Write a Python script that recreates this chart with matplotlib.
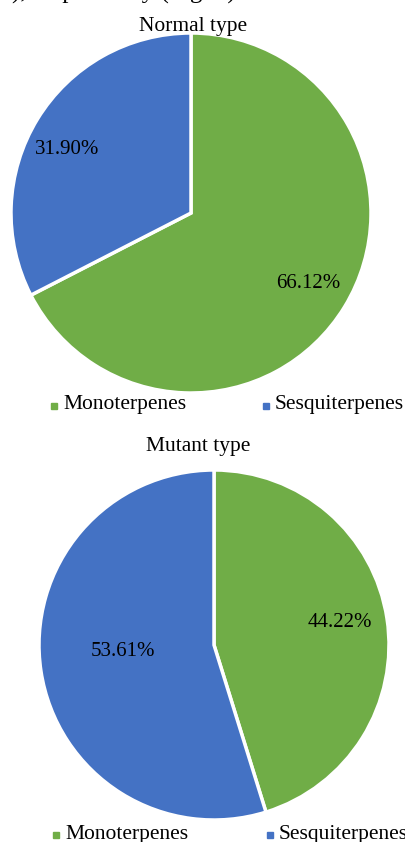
import matplotlib.pyplot as plt
from matplotlib.lines import Line2D

# Data
categories = ['Monoterpenes', 'Sesquiterpenes']
normal_values = [66.12, 31.90]
mutant_values = [44.22, 53.61]
colors = ['#70ad47', '#4472c4']

plt.rcParams['font.family'] = ['Liberation Serif', 'DejaVu Serif']

W, H = 406, 842
fig = plt.figure(figsize=(W / 100, H / 100), dpi=100)


def box(x0, y0, x1, y1):
    # pixel box (top-left origin) -> figure fraction
    return [x0 / W, 1 - y1 / H, (x1 - x0) / W, (y1 - y0) / H]


def draw_pie(ax, values, label_pos):
    wedges, _ = ax.pie(values, colors=colors, startangle=90, counterclock=False,
                       wedgeprops=dict(edgecolor='white', linewidth=2.5))
    for v, (lx, ly) in zip(values, label_pos):
        ax.text(lx, ly, '%.2f%%' % v, ha='center', va='center', fontsize=15)
    ax.set_xlim(-1, 1)
    ax.set_ylim(-1, 1)
    ax.set_aspect('equal')
    return wedges


def add_legend(y, x_green, x_blue):
    for x, c, name in zip([x_green, x_blue], colors, categories):
        fig.add_artist(Line2D([x / W], [1 - y / H], marker='s', markersize=4.5,
                              color=c, linestyle='none', transform=fig.transFigure))
        fig.text((x + 9) / W, 1 - (y - 1) / H, name, ha='left', va='center', fontsize=15.5)


# cut-off caption line from the page above
fig.text(0.03, 1 + 1 / H, '), respectively (Fig. 3).', ha='left', va='baseline', fontsize=18)

fig.text(193 / W, 1 - 26 / H, 'Normal type', ha='center', va='center', fontsize=15.5)
ax1 = fig.add_axes(box(11, 33, 371, 393))
draw_pie(ax1, normal_values, [(0.65, -0.39), (-0.69, 0.35)])
add_legend(406, 54, 266)

fig.text(198 / W, 1 - 446 / H, 'Mutant type', ha='center', va='center', fontsize=15.5)
ax2 = fig.add_axes(box(39, 470, 389, 820))
draw_pie(ax2, mutant_values, [(0.72, 0.13), (-0.52, -0.04)])
add_legend(835, 56, 270)

fig.savefig('out.png', dpi=100)
